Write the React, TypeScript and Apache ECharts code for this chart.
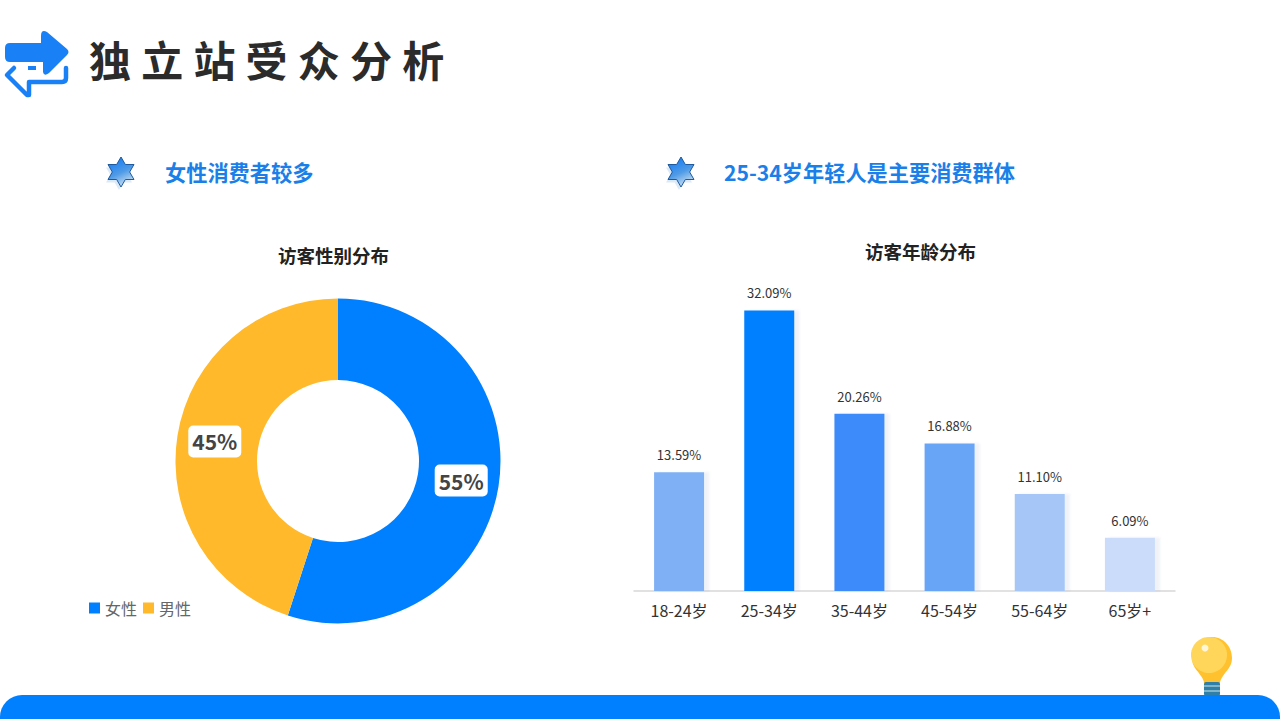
import React, { useEffect, useRef } from "react";
import * as echarts from "echarts";

const pageTitle = "独立站受众分析";
const leftHeading = "女性消费者较多";
const rightHeading = "25-34岁年轻人是主要消费群体";
const pieTitle = "访客性别分布";
const barTitle = "访客年龄分布";
const genderNames = ["女性", "男性"];
const genderValues = [55, 45];
const genderColors = ["#0080FF", "#FFB92B"];
const ageCategories = ["18-24岁", "25-34岁", "35-44岁", "45-54岁", "55-64岁", "65岁+"];
const ageValues = [13.59, 32.09, 20.26, 16.88, 11.1, 6.09];
const ageColors = ["#7FB0F5", "#007FFF", "#3D8BFA", "#69A5F7", "#A6C6F7", "#CADCFA"];

const FONT = "Noto Sans CJK SC";

echarts.graphic.registerShape(
  "arrowTop",
  echarts.graphic.extendPath(
    "M41 36 Q41 29 47 32 L67 49 Q70 52 67 55 L49 73 Q44 77 43 72 L43 62 L10 62 Q5 62 5 57 L5 48 Q5 43 10 43 L41 43 Z",
    {}
  )
);
echarts.graphic.registerShape(
  "arrowBottom",
  echarts.graphic.extendPath("M14 68 L7 75 L27 95 L29 95 L29 82 L62 82 Q66 82 66 78 L66 68", {})
);
echarts.graphic.registerShape(
  "bulbBody",
  echarts.graphic.extendPath(
    "M1212 637 C1200 637 1192 647 1192 658 C1192 667 1198 671 1201 676 C1203 679 1204 681 1204 683 L1220 683 C1220 681 1221 679 1223 676 C1226 671 1232 667 1232 658 C1232 647 1224 637 1212 637 Z",
    {}
  )
);

function starPoints(cx: number, cy: number, r: number) {
  const pts: number[][] = [];
  for (let i = 0; i < 12; i++) {
    const rad = i % 2 === 0 ? r : r / Math.sqrt(3);
    const a = (i * Math.PI) / 6;
    pts.push([cx + rad * Math.sin(a), cy - rad * Math.cos(a)]);
  }
  return pts;
}

function star(cx: number, cy: number) {
  return [
    { type: "polygon", shape: { points: starPoints(cx - 2, cy + 3, 15) }, style: { fill: "#DCE9F7" }, silent: true },
    {
      type: "polygon",
      shape: { points: starPoints(cx, cy, 15) },
      style: {
        fill: new echarts.graphic.LinearGradient(0.2, 0, 0.6, 1, [
          { offset: 0, color: "#0F7BF5" },
          { offset: 0.55, color: "#4F9BE6" },
          { offset: 1, color: "#CFE3F2" },
        ]),
        stroke: "#1F5A9E",
        lineWidth: 1,
      },
    },
  ];
}

export default function App() {
  const ref = useRef<HTMLDivElement>(null);
  useEffect(() => {
    const chart = echarts.init(ref.current!, undefined, { renderer: "svg" });
    chart.setOption({
      animation: false,
      backgroundColor: "#FFFFFF",
      textStyle: { fontFamily: FONT },
      title: [
        { text: pageTitle, left: 84, top: 32, textStyle: { fontFamily: FONT, fontSize: 42, fontWeight: "bold", color: "#2B2B2B" } },
        { text: leftHeading, left: 160, top: 156, textStyle: { fontFamily: FONT, fontSize: 21.2, fontWeight: "bold", color: "#1A7FE8" } },
        { text: rightHeading, left: 719, top: 156, textStyle: { fontFamily: FONT, fontSize: 21.2, fontWeight: "bold", color: "#1A7FE8" } },
        { text: pieTitle, left: 273, top: 241, textStyle: { fontFamily: FONT, fontSize: 18.5, fontWeight: "bold", color: "#222222" } },
        { text: barTitle, left: 860, top: 237, textStyle: { fontFamily: FONT, fontSize: 18.5, fontWeight: "bold", color: "#222222" } },
      ],
      legend: {
        left: 84,
        top: 595,
        itemWidth: 11,
        itemHeight: 11,
        itemGap: 6,
        icon: "rect",
        data: genderNames,
        textStyle: { fontFamily: FONT, fontSize: 16, color: "#666666", padding: [0, 0, 0, 0] },
      },
      grid: { left: 634, top: 285, width: 541, height: 306, containLabel: false },
      xAxis: {
        type: "category",
        data: ageCategories,
        axisLine: { lineStyle: { color: "#D8D8D8", width: 1.5 } },
        axisTick: { show: false },
        axisLabel: { fontFamily: FONT, fontSize: 16, color: "#333333", margin: 11 },
      },
      yAxis: { type: "value", min: 0, max: 35, show: false },
      series: [
        {
          type: "pie",
          center: [338, 461],
          radius: [81, 162.5],
          startAngle: 90,
          clockwise: true,
          data: genderNames.map((name, i) => ({
            name,
            value: genderValues[i],
            itemStyle: { color: genderColors[i] },
          })),
          label: {
            show: true,
            position: "inside",
            formatter: "{box|{c}%}",
            rich: {
              box: {
                fontFamily: FONT,
                fontSize: 21,
                fontWeight: "bold",
                color: "#444444",
                backgroundColor: "#FFFFFF",
                borderRadius: 5,
                padding: [2, 4],
                height: 28,
                lineHeight: 28,
              },
            },
          },
          labelLine: { show: false },
        },
        {
          type: "bar",
          barWidth: 50,
          data: ageValues.map((value, i) => ({ value, itemStyle: { color: ageColors[i] } })),
          itemStyle: { shadowColor: "rgba(60,90,160,0.08)", shadowBlur: 2, shadowOffsetX: 5, shadowOffsetY: 0 },
          label: {
            show: true,
            position: "top",
            distance: 11,
            formatter: (p: any) => p.value.toFixed(2) + "%",
            fontFamily: FONT,
            fontSize: 13,
            color: "#333333",
          },
        },
      ],
      graphic: [
        { type: "arrowBottom", x: 0, y: 0, style: { fill: "none", stroke: "#1A80F5", lineWidth: 4.5, lineJoin: "round", lineCap: "round" } },
        { type: "arrowTop", x: 0, y: 0, style: { fill: "#1A80F5" } },
        { type: "rect", shape: { x: 28, y: 66, width: 8, height: 4 }, style: { fill: "#1A80F5" } },
        ...star(121, 172),
        ...star(681, 172),
        { type: "bulbBody", x: 0, y: 0, style: { fill: "#FFC22E" } },
        { type: "circle", shape: { cx: 1209, cy: 655, r: 18 }, style: { fill: "#FFD65A" } },
        { type: "circle", shape: { cx: 1205, cy: 648, r: 3.5 }, style: { fill: "#FFF6D8" } },
        { type: "rect", shape: { x: 1204, y: 682, width: 16, height: 14, r: 2 }, style: { fill: "#2F7FA8" } },
        { type: "rect", shape: { x: 1204, y: 685, width: 16, height: 2 }, style: { fill: "#7FB4C8" } },
        { type: "rect", shape: { x: 1204, y: 690, width: 16, height: 2 }, style: { fill: "#7FB4C8" } },
        { type: "rect", shape: { x: 0, y: 695, width: 1280, height: 40, r: [22, 22, 0, 0] }, style: { fill: "#0080FF" } },
      ],
    });
    return () => chart.dispose();
  }, []);
  return (
    <>
      <style>{`html,body{margin:0;padding:0;overflow:hidden;background:#fff} svg text[style*="42px"]{letter-spacing:10.2px}`}</style>
      <div ref={ref} style={{ position: "fixed", left: 0, top: 0, width: 1280, height: 719 }} />
    </>
  );
}
